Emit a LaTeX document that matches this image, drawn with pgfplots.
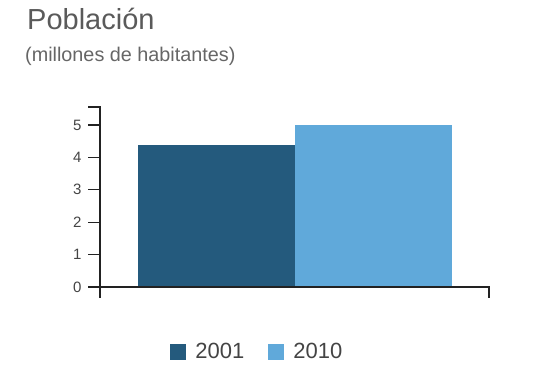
\documentclass[border=0pt]{standalone}
\usepackage{fontspec}
\setmainfont{Liberation Sans}
\usepackage{pgfplots}
\pgfplotsset{compat=1.18}
\definecolor{darkbar}{HTML}{245A7D}
\definecolor{lightbar}{HTML}{60A9DA}
\definecolor{titlecol}{HTML}{5A5A5A}
\definecolor{subcol}{HTML}{666666}
\definecolor{tickcol}{HTML}{444444}
\definecolor{axiscol}{HTML}{222222}
\begin{document}
\begin{tikzpicture}
\useasboundingbox (0,0) rectangle (538pt,368pt);
\node[anchor=base west, inner sep=0pt, text=titlecol] at (27pt,339pt) {\fontsize{29}{34}\selectfont Población};
\node[anchor=base west, inner sep=0pt, text=subcol] at (25pt,307pt) {\fontsize{19.8}{23}\selectfont (millones de habitantes)};
\begin{axis}[
  at={(100pt,81pt)}, anchor=south west,
  scale only axis, width=389pt, height=180pt,
  xmin=-194.5, xmax=194.5, ymin=0, ymax=5.556,
  ybar=0pt, bar width=157pt,
  axis line style={draw=none},
  xtick=\empty, ytick={0,1,2,3,4,5}, ytick pos=left,
  tick align=outside, major tick length=12pt,
  tick style={axiscol, line width=1.3pt},
  yticklabel style={text=tickcol, font=\fontsize{15}{17}\selectfont, xshift=-3pt},
  /pgf/number format/assume math mode=true,
  clip=false,
  legend columns=2,
  legend style={at={(0.402,-0.36)}, anchor=center, draw=none, fill=none,
    font=\fontsize{22}{26}\selectfont, text=tickcol,
    nodes={inner sep=0pt},
    /tikz/every odd column/.append style={column sep=9pt},
    /tikz/every even column/.append style={column sep=24pt}},
  legend image code/.code={\fill[#1, draw=none] (0pt,-8pt) rectangle (16pt,8pt);},
]
\addplot[fill=darkbar, draw=none] coordinates {(0,4.38)};
\addplot[fill=lightbar, draw=none] coordinates {(0,5.0)};
\legend{2001,2010}
\draw[axiscol, line width=1.3pt]
  ([xshift=-12pt]axis cs:-194.5,5.556) -- (axis cs:-194.5,5.556) -- (axis cs:-194.5,0) -- ([yshift=-11pt]axis cs:-194.5,0);
\draw[axiscol, line width=1.3pt]
  (axis cs:-194.5,0) -- (axis cs:194.5,0) -- ([yshift=-11pt]axis cs:194.5,0);
\end{axis}
\end{tikzpicture}
\end{document}
